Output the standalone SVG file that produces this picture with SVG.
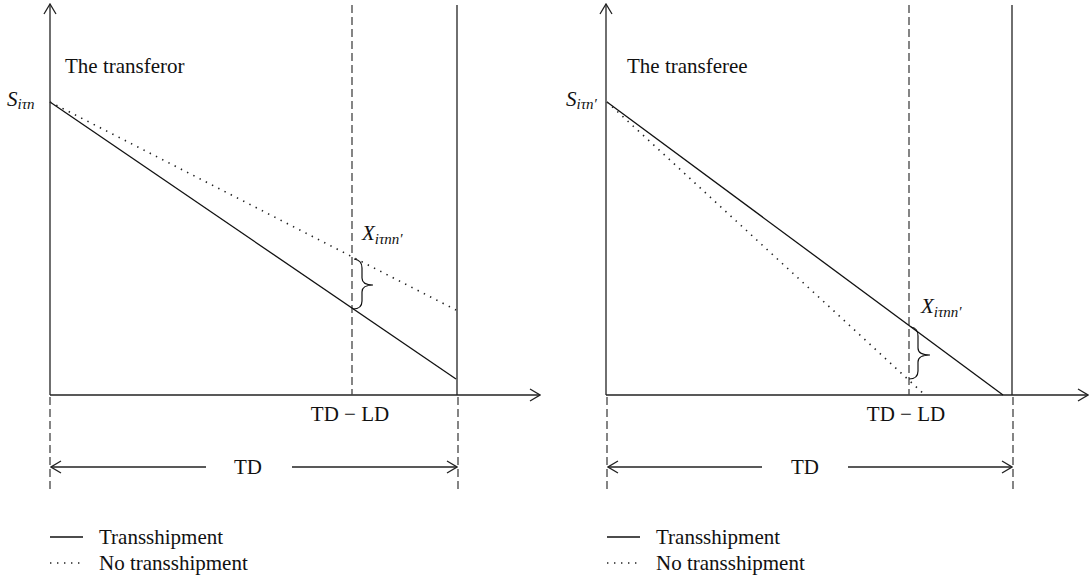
<svg xmlns="http://www.w3.org/2000/svg" width="1089" height="580" viewBox="0 0 1089 580">
<style>
.ax{stroke:#222;stroke-width:1.3;fill:none}
.sol{stroke:#111;stroke-width:1.3;fill:none}
.dash{stroke:#444;stroke-width:1.3;stroke-dasharray:8,4;fill:none}
.dot{stroke:#222;stroke-width:1.6;stroke-dasharray:1.4,5.6;fill:none}
.br{stroke:#111;stroke-width:1.2;fill:none}
.tx{font-family:'Liberation Serif','DejaVu Serif','Times New Roman',serif;fill:#111}
.t{font-size:21px}
.it{font-style:italic}
.sub{font-size:15px;font-style:italic}
</style>
<defs>
<marker id="ah" viewBox="0 0 12 14" refX="11" refY="7" markerWidth="12" markerHeight="14" markerUnits="userSpaceOnUse" orient="auto-start-reverse">
<path d="M1,1 L11,7 L1,13" fill="none" stroke="#222" stroke-width="1.3"/>
</marker>
</defs>

<g id="left-panel">
<g id="left-axes">
<line class="ax" x1="50" y1="395" x2="50" y2="4" marker-end="url(#ah)"/>
<line class="ax" x1="50" y1="395" x2="540" y2="395" marker-end="url(#ah)"/>
<line class="ax" x1="457" y1="5" x2="457" y2="395"/>
<line class="dash" x1="352" y1="5" x2="352" y2="395"/>
<line class="dash" x1="50" y1="397" x2="50" y2="490"/>
<line class="dash" x1="458" y1="397" x2="458" y2="490"/>
</g>
<g id="left-lines">
<line class="sol" x1="50" y1="102" x2="456" y2="379"/>
<line class="dot" x1="50" y1="102" x2="456" y2="310"/>
<path class="br" d="M354,259 Q362,260 362,268 L362,278 Q362,285 373,285 Q362,285 362,292 L362,301 Q362,309 353,309"/>
</g>
<g id="left-labels" class="tx" font-family="Liberation Serif, DejaVu Serif, serif">
<text class="t" x="65" y="73">The transferor</text>
<text x="7" y="106"><tspan class="t it">S</tspan><tspan class="sub" dy="3">iτn</tspan></text>
<text x="362" y="240"><tspan class="t it">X</tspan><tspan class="sub" dy="4">iτnn′</tspan></text>
<text class="t" x="350" y="421" text-anchor="middle">TD − LD</text>
</g>
<g id="left-td">
<line class="ax" x1="206" y1="467" x2="51" y2="467" marker-end="url(#ah)"/>
<line class="ax" x1="292" y1="467" x2="457" y2="467" marker-end="url(#ah)"/>
<text class="tx t" font-family="Liberation Serif, DejaVu Serif, serif" x="248" y="474" text-anchor="middle">TD</text>
</g>
<g id="left-legend" class="tx" font-family="Liberation Serif, DejaVu Serif, serif">
<line class="sol" x1="50" y1="537" x2="83" y2="537"/>
<text class="t" x="99" y="544">Transshipment</text>
<line class="dot" x1="50" y1="563" x2="85" y2="563"/>
<text class="t" x="99" y="570">No transshipment</text>
</g>
</g>

<g id="right-panel">
<g id="right-axes">
<line class="ax" x1="606" y1="395" x2="606" y2="4" marker-end="url(#ah)"/>
<line class="ax" x1="606" y1="395" x2="1088" y2="395" marker-end="url(#ah)"/>
<line class="ax" x1="1012" y1="5" x2="1012" y2="395"/>
<line class="dash" x1="909" y1="5" x2="909" y2="395"/>
<line class="dash" x1="607" y1="397" x2="607" y2="490"/>
<line class="dash" x1="1013" y1="397" x2="1013" y2="490"/>
</g>
<g id="right-lines">
<line class="sol" x1="607" y1="102" x2="1003" y2="395"/>
<line class="dot" x1="607" y1="102" x2="925" y2="395"/>
<path class="br" d="M911,327 Q918,328 918,336 L918,348 Q918,355 930,355 Q918,355 918,362 L918,371 Q918,379 909,379"/>
</g>
<g id="right-labels" class="tx" font-family="Liberation Serif, DejaVu Serif, serif">
<text class="t" x="627" y="73">The transferee</text>
<text x="566" y="106"><tspan class="t it">S</tspan><tspan class="sub" dy="3">iτn′</tspan></text>
<text x="921" y="313"><tspan class="t it">X</tspan><tspan class="sub" dy="4">iτnn′</tspan></text>
<text class="t" x="906" y="421" text-anchor="middle">TD − LD</text>
</g>
<g id="right-td">
<line class="ax" x1="762" y1="467" x2="608" y2="467" marker-end="url(#ah)"/>
<line class="ax" x1="848" y1="467" x2="1012" y2="467" marker-end="url(#ah)"/>
<text class="tx t" font-family="Liberation Serif, DejaVu Serif, serif" x="805" y="474" text-anchor="middle">TD</text>
</g>
<g id="right-legend" class="tx" font-family="Liberation Serif, DejaVu Serif, serif">
<line class="sol" x1="607" y1="537" x2="640" y2="537"/>
<text class="t" x="656" y="544">Transshipment</text>
<line class="dot" x1="607" y1="563" x2="642" y2="563"/>
<text class="t" x="656" y="570">No transshipment</text>
</g>
</g>
</svg>
